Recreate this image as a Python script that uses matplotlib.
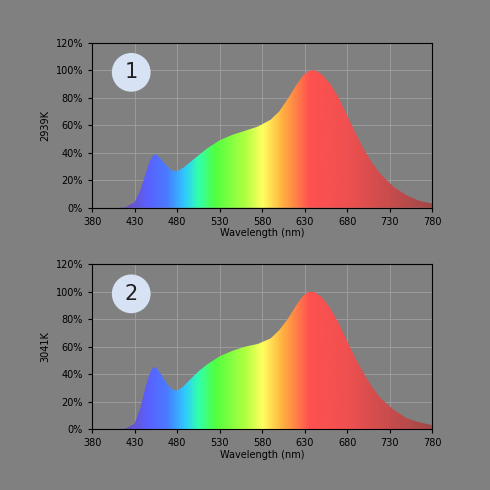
import matplotlib
matplotlib.use('Agg')
import matplotlib.pyplot as plt
import numpy as np
from matplotlib.colors import LinearSegmentedColormap
from matplotlib.ticker import PercentFormatter

wavelength = [380, 410, 420, 430, 437, 443, 448, 452, 455, 460, 467, 474, 480, 487, 495, 505, 515, 530, 545, 560, 575, 590, 600, 610, 620, 628, 635, 642, 650, 660, 670, 680, 690, 700, 710, 720, 735, 750, 765, 780]
spd_2939 = [0, 0, 0.005, 0.04, 0.13, 0.25, 0.34, 0.38, 0.39, 0.36, 0.31, 0.27, 0.265, 0.29, 0.33, 0.38, 0.43, 0.49, 0.53, 0.56, 0.59, 0.64, 0.70, 0.79, 0.89, 0.96, 0.995, 1.0, 0.97, 0.90, 0.80, 0.67, 0.54, 0.42, 0.32, 0.24, 0.15, 0.09, 0.05, 0.03]
spd_3041 = [0, 0, 0.005, 0.04, 0.16, 0.31, 0.41, 0.45, 0.45, 0.41, 0.34, 0.29, 0.28, 0.31, 0.36, 0.42, 0.47, 0.53, 0.57, 0.60, 0.62, 0.66, 0.72, 0.80, 0.90, 0.97, 1.0, 0.995, 0.96, 0.88, 0.77, 0.64, 0.51, 0.40, 0.30, 0.22, 0.14, 0.08, 0.05, 0.03]
labels = ['2939K', '3041K']
badges = ['1', '2']
series = [spd_2939, spd_3041]

bg = '#808080'
spec = LinearSegmentedColormap.from_list('spec', [
    (0.0, '#8040a0'), (0.10, '#6a50c0'), (0.16, '#5a60ff'), (0.22, '#4a7bff'),
    (0.27, '#30c8ff'), (0.31, '#30ffb0'), (0.36, '#50ff40'), (0.45, '#b0ff40'),
    (0.50, '#ffff60'), (0.56, '#ffb040'), (0.64, '#ff5050'), (0.75, '#f05050'),
    (1.0, '#a04848')])

fig = plt.figure(figsize=(4.9, 4.9), dpi=100, facecolor=bg)
axes_pos = [[0.188, 0.576, 0.694, 0.337], [0.188, 0.124, 0.694, 0.337]]

for pos, y, lab, badge in zip(axes_pos, series, labels, badges):
    ax = fig.add_axes(pos)
    ax.set_facecolor(bg)
    ax.grid(True, color='#a0a0a0', linewidth=0.6)
    ax.set_axisbelow(True)
    poly = ax.fill_between(wavelength, 0, y, color='none', lw=0)
    grad = np.linspace(0, 1, 400).reshape(1, -1)
    im = ax.imshow(grad, extent=[380, 780, 0, 1.2], aspect='auto', cmap=spec, origin='lower', zorder=2)
    path = poly.get_paths()[0]
    im.set_clip_path(path, transform=ax.transData)
    ax.set_xlim(380, 780)
    ax.set_ylim(0, 1.2)
    ax.set_xticks(range(380, 781, 50))
    ax.set_yticks(np.arange(0, 1.21, 0.2))
    ax.yaxis.set_major_formatter(PercentFormatter(1.0, decimals=0))
    ax.tick_params(labelsize=7, length=3)
    ax.set_xlabel('Wavelength (nm)', fontsize=7, labelpad=1)
    ax.set_ylabel(lab, fontsize=7)
    ax.text(0.115, 0.82, badge, transform=ax.transAxes, ha='center', va='center', fontsize=15, color='#202020',
            bbox=dict(boxstyle='circle,pad=0.45', fc='#d7e3f5', ec='none'), zorder=5)

fig.savefig('out.png', facecolor=bg)
